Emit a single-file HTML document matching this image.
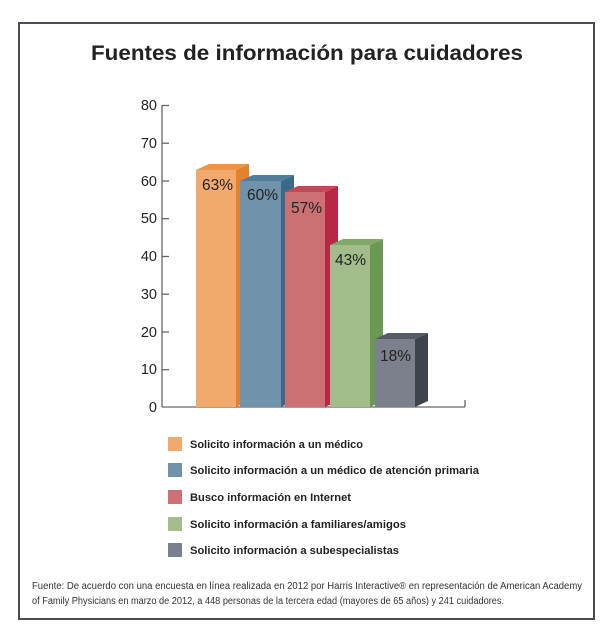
<!DOCTYPE html>
<html><head><meta charset="utf-8"><style>
html,body{margin:0;padding:0;background:#fff;}
svg{display:block;font-family:"Liberation Sans",sans-serif;}
</style></head><body>
<svg width="612" height="640" viewBox="0 0 612 640">
<rect x="19" y="23" width="575" height="596" fill="#fff" stroke="#4a4d52" stroke-width="2"/>
<text x="307" y="60" text-anchor="middle" font-size="21" font-weight="bold" fill="#222" textLength="432" lengthAdjust="spacingAndGlyphs">Fuentes de información para cuidadores</text>
<g stroke="#666" stroke-width="1.3" fill="none">
<line x1="162" y1="105" x2="162" y2="407"/>
<line x1="162" y1="407" x2="465" y2="407"/>
<line x1="465" y1="407" x2="465" y2="400"/>
<line x1="162" y1="105.5" x2="169" y2="105.5"/>
<line x1="162" y1="143.2" x2="169" y2="143.2"/>
<line x1="162" y1="181" x2="169" y2="181"/>
<line x1="162" y1="218.7" x2="169" y2="218.7"/>
<line x1="162" y1="256.5" x2="169" y2="256.5"/>
<line x1="162" y1="294.2" x2="169" y2="294.2"/>
<line x1="162" y1="332" x2="169" y2="332"/>
<line x1="162" y1="369.7" x2="169" y2="369.7"/>
</g>
<g font-size="14.5" fill="#222" text-anchor="end">
<text x="157" y="110">80</text><text x="157" y="148">70</text><text x="157" y="186">60</text>
<text x="157" y="223">50</text><text x="157" y="261">40</text><text x="157" y="299">30</text>
<text x="157" y="337">20</text><text x="157" y="374">10</text><text x="157" y="412">0</text>
</g>
<g>
<polygon points="236,170 249,164 249,401 236,407" fill="#e8802a"/>
<polygon points="196,170 209,164 249,164 236,170" fill="#ec9448"/>
<rect x="196" y="170" width="40" height="237" fill="#f2a96e"/>

<polygon points="281,181 294,175 294,401 281,407" fill="#3a6a89"/>
<polygon points="240,181 253,175 294,175 281,181" fill="#4f7e9c"/>
<rect x="240" y="181" width="41" height="226" fill="#7092aa"/>

<polygon points="325,192 338,186 338,401 325,407" fill="#b62843"/>
<polygon points="285,192 298,186 338,186 325,192" fill="#c04858"/>
<rect x="285" y="192" width="40" height="215" fill="#cc7074"/>

<polygon points="370,245 383,239 383,401 370,407" fill="#6a9a52"/>
<polygon points="330,245 343,239 383,239 370,245" fill="#80aa68"/>
<rect x="330" y="245" width="40" height="162" fill="#a2bd8b"/>

<polygon points="415,339 428,333 428,401 415,407" fill="#3e434c"/>
<polygon points="375,339 388,333 428,333 415,339" fill="#565b65"/>
<rect x="375" y="339" width="40" height="68" fill="#7c808c"/>
</g>
<g font-size="15.5" fill="#222">
<text x="202" y="190">63%</text>
<text x="247" y="200">60%</text>
<text x="291" y="213">57%</text>
<text x="335" y="265">43%</text>
<text x="380" y="361">18%</text>
</g>
<g>
<rect x="168" y="437" width="14" height="14" fill="#f2a96e"/>
<rect x="168" y="463" width="14" height="14" fill="#7092aa"/>
<rect x="168" y="490" width="14" height="14" fill="#cc7074"/>
<rect x="168" y="517" width="14" height="14" fill="#a2bd8b"/>
<rect x="168" y="543" width="14" height="14" fill="#7c808c"/>
</g>
<g font-size="11.2" font-weight="bold" fill="#222">
<text x="190" y="448" textLength="173" lengthAdjust="spacingAndGlyphs">Solicito información a un médico</text>
<text x="190" y="474" textLength="289" lengthAdjust="spacingAndGlyphs">Solicito información a un médico de atención primaria</text>
<text x="190" y="501" textLength="161" lengthAdjust="spacingAndGlyphs">Busco información en Internet</text>
<text x="190" y="528" textLength="216" lengthAdjust="spacingAndGlyphs">Solicito información a familiares/amigos</text>
<text x="190" y="554" textLength="209" lengthAdjust="spacingAndGlyphs">Solicito información a subespecialistas</text>
</g>
<g font-size="10" fill="#333">
<text x="32" y="589" textLength="550" lengthAdjust="spacingAndGlyphs">Fuente: De acuerdo con una encuesta en línea realizada en 2012 por Harris Interactive® en representación de American Academy</text>
<text x="32" y="604" textLength="472" lengthAdjust="spacingAndGlyphs">of Family Physicians en marzo de 2012, a 448 personas de la tercera edad (mayores de 65 años) y 241 cuidadores.</text>
</g>
</svg>
</body></html>
